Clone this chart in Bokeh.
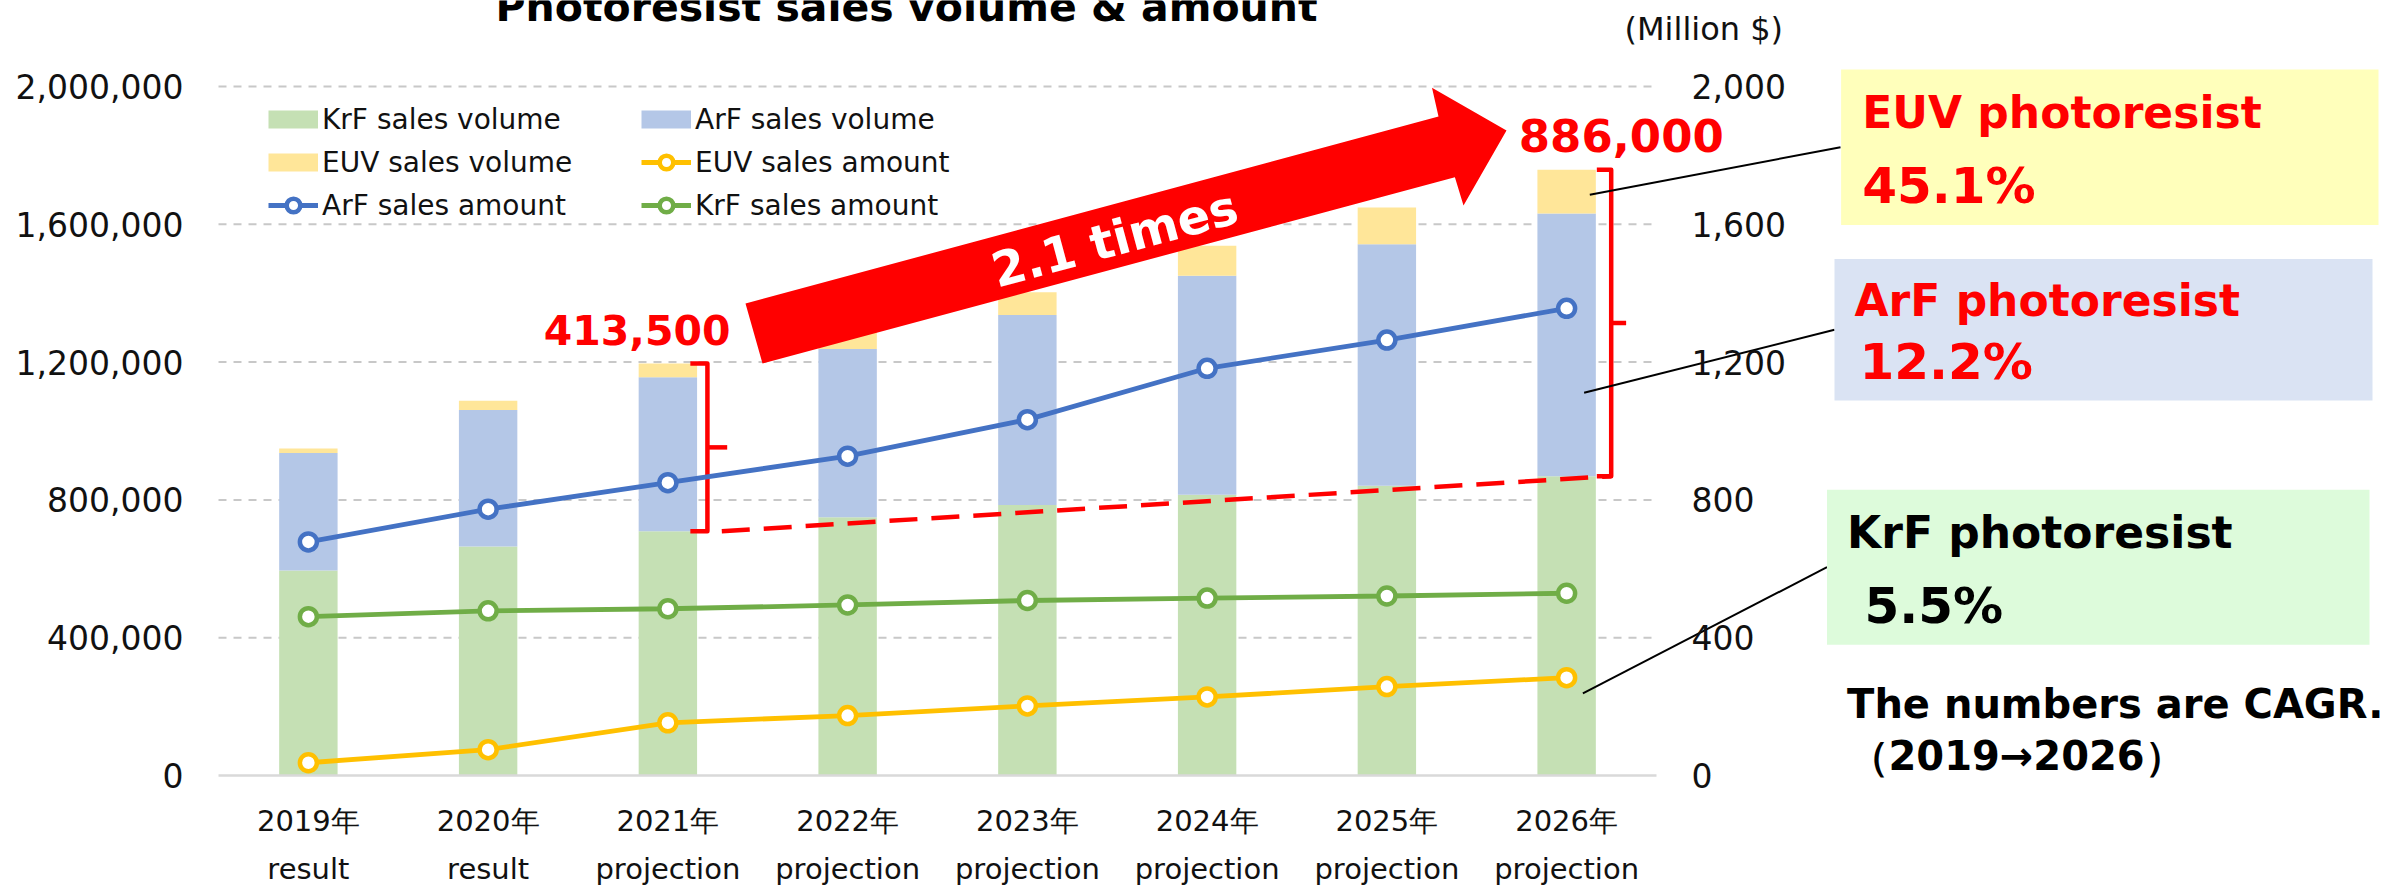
from bokeh.plotting import figure
from bokeh.models import (Range1d, LinearAxis, FixedTicker, NumeralTickFormatter,
                          Legend, LegendItem, Label, BoxAnnotation, ColumnDataSource)
from bokeh.embed import file_html
from bokeh.resources import INLINE

# ---------------- data ----------------
years = ["2019年", "2020年", "2021年", "2022年", "2023年", "2024年", "2025年", "2026年"]
stages = ["result", "result", "projection", "projection", "projection",
          "projection", "projection", "projection"]
krf_volume = [595000, 665000, 709000, 750000, 785000, 815000, 841000, 869000]
arf_volume = [341000, 396000, 447000, 488000, 552000, 636000, 701000, 762000]
euv_volume = [13000, 27000, 40000, 53000, 66000, 87000, 107000, 127000]
arf_amount = [678, 773, 850, 927, 1033, 1182, 1264, 1356]
krf_amount = [461, 478, 484, 495, 508, 515, 521, 529]
euv_amount = [37, 75, 153, 174, 202, 228, 258, 284]
volume_ticks = [0, 400000, 800000, 1200000, 1600000, 2000000]
amount_ticks = [0, 400, 800, 1200, 1600, 2000]
series_names = ["KrF sales volume", "ArF sales volume", "EUV sales volume",
                "EUV sales amount", "ArF sales amount", "KrF sales amount"]
growth_2021 = "413,500"
growth_2026 = "886,000"
growth_ratio = "2.1 times"
cagr_boxes = [("EUV photoresist", "45.1%"), ("ArF photoresist", "12.2%"), ("KrF photoresist", "5.5%")]
cagr_note = ["The numbers are CAGR.", "（2019→2026）"]

# ---------------- layout ----------------
W, H = 2389, 885
PL, PT, PR, PB = 218, 86, 1656, 775      # plot area in canvas pixels
NCAT = len(years)
VMAX = volume_ticks[-1]
AMAX = amount_ticks[-1]
XS = (PR - PL) / NCAT                    # px per category
YS = (PB - PT) / VMAX                    # px per volume unit

def ax(px):
    return (px - PL) / XS

def ay(py):
    return (PB - py) / YS

pos = [i + 0.5 for i in range(NCAT)]

C_KRF_BAR, C_ARF_BAR, C_EUV_BAR = "#C5E0B4", "#B4C7E7", "#FFE699"
C_ARF, C_KRF, C_EUV = "#4472C4", "#70AD47", "#FFC000"
RED = "#FF0000"
FONT = "DejaVu Sans"

X0, X1 = ax(0), ax(W)
Y0, Y1 = ay(H), ay(0)
p = figure(width=W, height=H, x_range=Range1d(X0, X1), y_range=Range1d(Y0, Y1),
           output_backend="svg", toolbar_location=None, title=None,
           min_border=0, min_border_left=0, min_border_right=0,
           min_border_top=0, min_border_bottom=0)
p.outline_line_color = None
p.background_fill_color = "white"
p.border_fill_color = "white"
p.grid.visible = False
p.extra_y_ranges = {"amt": Range1d(Y0 * AMAX / VMAX, Y1 * AMAX / VMAX)}

src = ColumnDataSource(dict(x=pos, krf=krf_volume, arf=arf_volume, euv=euv_volume,
                            arf_amt=arf_amount, krf_amt=krf_amount, euv_amt=euv_amount))

# dashed horizontal grid (only across the plot area)
gt = volume_ticks[1:]
p.segment(x0=[0] * len(gt), x1=[NCAT] * len(gt), y0=gt, y1=gt,
          line_color="#C8C8C8", line_width=2, line_dash="8 7")

# bars
p.vbar_stack(["krf", "arf", "euv"], x="x", width=0.325,
             fill_color=[C_KRF_BAR, C_ARF_BAR, C_EUV_BAR], line_color=None, source=src)

# big red arrow
arrow_px = [(745, 303), (1438, 116), (1431.5, 87.3), (1506, 130),
            (1463, 205), (1454.4, 176.7), (762, 363)]
p.patch([ax(a) for a, b in arrow_px], [ay(b) for a, b in arrow_px],
        fill_color=RED, line_color=None)

# dashed red line between KrF tops of 2021 and 2026
p.line([pos[2] + 0.30, pos[7] + 0.248], [krf_volume[2], krf_volume[7]],
       line_color=RED, line_width=4.5, line_dash="28 14")

# brackets
def bracket(i, off, hook, tick):
    top = krf_volume[i] + arf_volume[i] + euv_volume[i]
    bot = krf_volume[i]
    mid = (top + bot) / 2
    vx = pos[i] + off
    p.line([vx - hook, vx, vx, vx - hook], [top, top, bot, bot],
           line_color=RED, line_width=4.5, line_join="round")
    p.line([vx, vx + tick], [mid, mid], line_color=RED, line_width=4.5)

bracket(2, 0.22, 0.095, 0.11)
bracket(7, 0.248, 0.08, 0.083)

# connector lines to the CAGR boxes
for (x0, y0), (x1, y1) in [((1589.3, 194.3), (1840, 146.7)),
                           ((1583.6, 392.2), (1834, 329.3)),
                           ((1582.4, 692.9), (1826.5, 566.7))]:
    p.line([ax(x0), ax(x1)], [ay(y0), ay(y1)], line_color="black", line_width=2)

# amount lines
amt_r = {}
for col, color in [("euv_amt", C_EUV), ("krf_amt", C_KRF), ("arf_amt", C_ARF)]:
    l = p.line("x", col, source=src, y_range_name="amt", line_color=color, line_width=4.8)
    s = p.scatter("x", col, source=src, y_range_name="amt", size=17, marker="circle",
                  fill_color="white", line_color=color, line_width=4.5)
    amt_r[col] = [l, s]

# legend swatch proxies (placed off-canvas)
sw = {}
for key, color in [("krf", C_KRF_BAR), ("arf", C_ARF_BAR), ("euv", C_EUV_BAR)]:
    sw[key] = p.line(x=[X0 - 5, X0 - 4], y=[0, 0], line_color=color, line_width=18)

legend = Legend(items=[
    LegendItem(label=series_names[0], renderers=[sw["krf"]]),
    LegendItem(label=series_names[1], renderers=[sw["arf"]]),
    LegendItem(label=series_names[2], renderers=[sw["euv"]]),
    LegendItem(label=series_names[3], renderers=amt_r["euv_amt"]),
    LegendItem(label=series_names[4], renderers=amt_r["arf_amt"]),
    LegendItem(label=series_names[5], renderers=amt_r["krf_amt"]),
], orientation="horizontal", ncols=2, location=(268, H - 102 - 120), margin=0, padding=0,
    spacing=9, glyph_width=50, glyph_height=34, label_width=310, label_height=34,
    label_standoff=4, label_text_font=FONT, label_text_font_size="28px",
    label_text_color="#111111", background_fill_alpha=0, border_line_alpha=0)
p.add_layout(legend)

# axes
ya = p.yaxis[0]
ya.ticker = FixedTicker(ticks=volume_ticks)
ya.formatter = NumeralTickFormatter(format="0,0")
ya.fixed_location = 0
ya.bounds = (0, VMAX)
ra = LinearAxis(y_range_name="amt", ticker=FixedTicker(ticks=amount_ticks),
                formatter=NumeralTickFormatter(format="0,0"), fixed_location=NCAT,
                bounds=(0, AMAX))
p.add_layout(ra, "right")
for a in (ya, ra):
    a.axis_line_color = None
    a.major_tick_line_color = None
    a.minor_tick_line_color = None
    a.major_tick_out = 0
    a.major_tick_in = 0
    a.major_label_standoff = 35
    a.major_label_text_font = FONT
    a.major_label_text_font_size = "33px"
    a.major_label_text_color = "#111111"

xa = p.xaxis[0]
xa.ticker = FixedTicker(ticks=pos)
xa.major_label_overrides = {t: y for t, y in zip(pos, years)}
xa.axis_line_color = "#D9D9D9"
xa.axis_line_width = 2.5
xa2 = LinearAxis(ticker=FixedTicker(ticks=pos),
                 major_label_overrides={t: s for t, s in zip(pos, stages)})
xa2.axis_line_color = None
p.add_layout(xa2, "below")
for a, so in ((xa, 28), (xa2, 76)):
    a.fixed_location = 0
    a.bounds = (0, NCAT)
    a.major_tick_line_color = None
    a.minor_tick_line_color = None
    a.major_tick_out = 0
    a.major_tick_in = 0
    a.major_label_standoff = so
    a.major_label_text_font = FONT
    a.major_label_text_font_size = "29px"
    a.major_label_text_color = "#111111"

# annotations (py is the wanted baseline in canvas pixels)
def label(text, px, py, size, color="#000000", bold=False, align="left",
          baseline="alphabetic", angle=0):
    if baseline == "alphabetic":
        py = py - 0.33 * size
    p.add_layout(Label(x=ax(px), y=ay(py), text=text, text_font=FONT,
                       text_font_size=f"{size}px",
                       text_font_style="bold" if bold else "normal", text_color=color,
                       text_align=align, text_baseline=baseline, angle=angle,
                       angle_units="deg"))

# CAGR boxes
boxes = [(1840.6, 2378, 69, 224.5, "#FFFFBB"),
         (1834, 2372, 258.5, 400, "#DAE3F3"),
         (1826.5, 2369, 489.3, 644.3, "#DDFBDB")]
for l_, r_, t_, b_, col in boxes:
    p.add_layout(BoxAnnotation(left=ax(l_), right=ax(r_), top=ay(t_), bottom=ay(b_),
                               fill_color=col, fill_alpha=1, line_color=None))

label("Photoresist sales volume & amount", 495, 20, 41, bold=True)
label("(Million $)", 1624, 39.3, 32, color="#111111")
label(growth_2021, 730, 342.7, 41, color=RED, bold=True, align="right")
label(growth_2026, 1518.3, 150, 45, color=RED, bold=True)
label(growth_ratio, 1114, 238, 48, color="white", bold=True,
      align="center", baseline="middle", angle=15.1)

label(cagr_boxes[0][0], 1861.7, 126.7, 44, color=RED, bold=True)
label(cagr_boxes[0][1], 1861.7, 201.7, 50, color=RED, bold=True)
label(cagr_boxes[1][0], 1854, 315, 44, color=RED, bold=True)
label(cagr_boxes[1][1], 1859, 378.3, 50, color=RED, bold=True)
label(cagr_boxes[2][0], 1846.6, 546.7, 44, color="black", bold=True)
label(cagr_boxes[2][1], 1864, 621.7, 50, color="black", bold=True)
label(cagr_note[0], 1846.6, 716.7, 40, color="black", bold=True)
label(cagr_note[1], 1848, 768.3, 40, color="black", bold=True)

open("out.html", "w").write(file_html(p, INLINE))
